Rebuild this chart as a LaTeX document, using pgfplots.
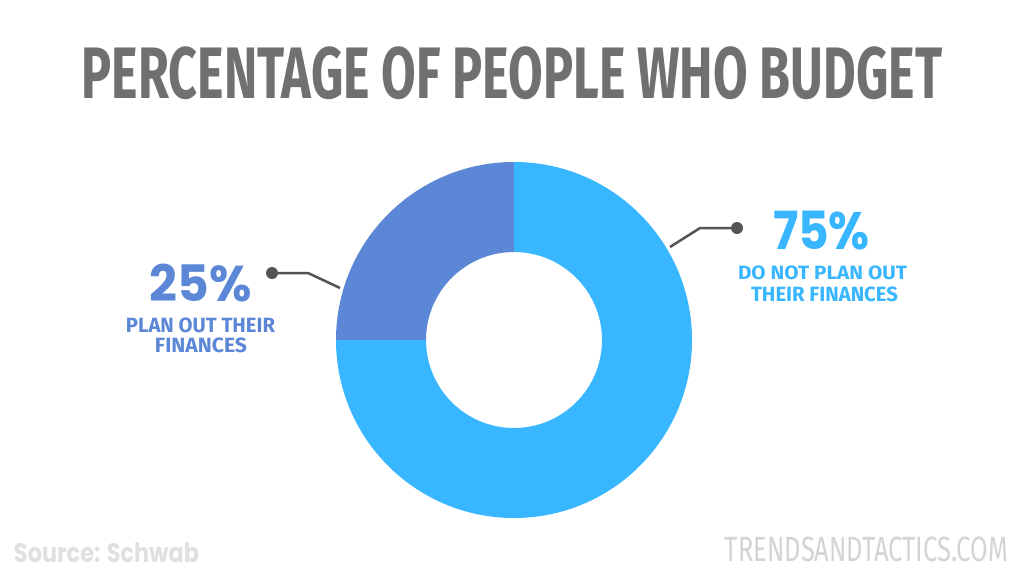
\documentclass[border=0pt]{standalone}
\usepackage{graphicx}
\usepackage{pgfplots}
\pgfplotsset{compat=1.18}
\usepackage{pgfplotstable}
\usepackage{fontspec}
\setmainfont{Fira Sans}
\newfontfamily\popp{Poppins}
\definecolor{darkblue}{HTML}{5B87D6}
\definecolor{lightblue}{HTML}{38B6FF}
\definecolor{titlegray}{HTML}{707070}
\definecolor{leader}{HTML}{555555}
\definecolor{srcgray}{HTML}{E0E0E0}
\definecolor{markgray}{HTML}{D4D4D4}
\newcommand\fitbox[3]{\resizebox*{#1}{#2}{#3}}

% share of people (percent)
\pgfplotstableread{
group value
plan 25
noplan 75
}\budget

\begin{document}
\begin{tikzpicture}
\pgfplotstablegetelem{0}{value}\of\budget \let\va\pgfplotsretval
\pgfplotstablegetelem{1}{value}\of\budget \let\vb\pgfplotsretval
\pgfmathsetmacro\tot{\va+\vb}
\pgfmathsetmacro\angA{90+(\va/\tot)*360}
\pgfmathsetmacro\angB{\angA+(\vb/\tot)*360}
\def\cx{514}\def\cy{340}\def\ro{178}\def\ri{88}
\begin{axis}[
  at={(0,0)}, anchor=south west,
  scale only axis, width=1024pt, height=576pt,
  xmin=0, xmax=1024, ymin=0, ymax=576, y dir=reverse,
  hide axis, clip=false]
\fill[white] (axis cs:0,0) rectangle (axis cs:1024,576);
% donut
\fill[darkblue] (axis cs:\cx,\cy-\ro) arc[start angle=90,end angle=\angA,radius=\ro pt]
  -- (axis cs:{\cx+\ri*cos(\angA)},{\cy-\ri*sin(\angA)}) arc[start angle=\angA,end angle=90,radius=\ri pt] -- cycle;
\fill[lightblue] (axis cs:{\cx+\ro*cos(\angA)},{\cy-\ro*sin(\angA)}) arc[start angle=\angA,end angle=\angB,radius=\ro pt]
  -- (axis cs:{\cx+\ri*cos(\angB)},{\cy-\ri*sin(\angB)}) arc[start angle=\angB,end angle=\angA,radius=\ri pt] -- cycle;
% leaders
\draw[leader, line width=2.5pt] (axis cs:272,273) -- (axis cs:308,273) -- (axis cs:340,288);
\fill[leader] (axis cs:272,273) circle[radius=6pt];
\draw[leader, line width=2.5pt] (axis cs:737,228) -- (axis cs:700,228) -- (axis cs:670,247);
\fill[leader] (axis cs:737,228) circle[radius=6pt];
% texts
\node[inner sep=0, text=titlegray] at (axis cs:512,73) {\fitbox{860pt}{53pt}{\bfseries PERCENTAGE OF PEOPLE WHO BUDGET}};
\node[inner sep=0, text=darkblue] at (axis cs:201,283) {\fitbox{102pt}{38pt}{\popp\bfseries 25\%}};
\node[inner sep=0, text=darkblue] at (axis cs:200.5,325) {\fitbox{149pt}{15pt}{\bfseries PLAN OUT THEIR}};
\node[inner sep=0, text=darkblue] at (axis cs:201,345) {\fitbox{92pt}{15pt}{\bfseries FINANCES}};
\node[inner sep=0, text=lightblue] at (axis cs:821.5,231) {\fitbox{97pt}{39pt}{\popp\bfseries 75\%}};
\node[inner sep=0, text=lightblue] at (axis cs:822.5,273) {\fitbox{169pt}{14pt}{\bfseries DO NOT PLAN OUT}};
\node[inner sep=0, text=lightblue] at (axis cs:824.5,294.5) {\fitbox{147pt}{15pt}{\bfseries THEIR FINANCES}};
\node[inner sep=0, text=srcgray] at (axis cs:106.5,553) {\fitbox{185pt}{20pt}{\popp\bfseries Source: Schwab}};
\node[inner sep=0, text=markgray] at (axis cs:866.5,549.5) {\fitbox{283pt}{25pt}{TRENDSANDTACTICS.COM}};
\end{axis}
\end{tikzpicture}
\end{document}
